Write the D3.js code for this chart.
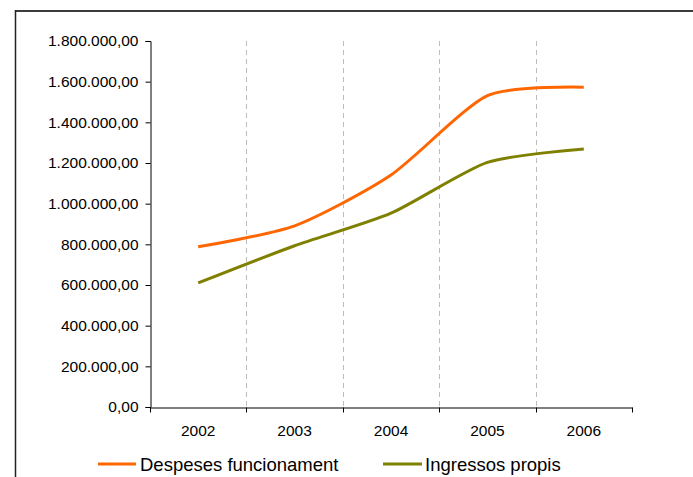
<!DOCTYPE html>
<html>
<head>
<meta charset="utf-8">
<script src="https://cdn.jsdelivr.net/npm/d3@7"></script>
<style>
  html, body { margin: 0; padding: 0; background: #fff; }
  svg { display: block; font-family: "Liberation Sans", Arial, sans-serif; }
</style>
</head>
<body>
<svg id="chart" width="693" height="477"></svg>
<script>
const years = ["2002", "2003", "2004", "2005", "2006"];
const despeses = [788000, 891000, 1141000, 1531000, 1573000];
const ingressos = [610000, 793000, 953000, 1203000, 1269000];
const yTicks = [0, 200000, 400000, 600000, 800000, 1000000, 1200000, 1400000, 1600000, 1800000];
const seriesNames = ["Despeses funcionament", "Ingressos propis"];
const seriesColors = ["#FF6600", "#808000"];

(function () {
const svg = d3.select("#chart");
const W = 693, H = 477;
const pLeft = 150, pRight = 632, pTop = 41, pBottom = 407;

// frame
svg.append("line").attr("x1", 15).attr("x2", W).attr("y1", 11).attr("y2", 11)
  .attr("stroke", "#3c3c3c").attr("stroke-width", 2);
svg.append("line").attr("x1", 15.5).attr("x2", 15.5).attr("y1", 10).attr("y2", H)
  .attr("stroke", "#222").attr("stroke-width", 1.5);

const x = d3.scaleBand().domain(years).range([pLeft, pRight]).padding(0);
const y = d3.scaleLinear().domain([0, 1800000]).range([pBottom, pTop]);

const loc = d3.formatLocale({decimal: ",", thousands: ".", grouping: [3], currency: ["", "€"]});
const fmt = loc.format(",.2f");

// vertical dashed gridlines at category boundaries
const bounds = years.slice(1).map(d => x(d));
svg.append("g").selectAll("line").data(bounds).join("line")
  .attr("x1", d => Math.round(d) + 0.5).attr("x2", d => Math.round(d) + 0.5)
  .attr("y1", pTop).attr("y2", pBottom)
  .attr("stroke", "#bdbdbd").attr("stroke-width", 1)
  .attr("stroke-dasharray", "5,4");

// y axis
const yAxis = d3.axisLeft(y).tickValues(yTicks).tickFormat(fmt).tickSize(5).tickPadding(7);
const gy = svg.append("g").attr("transform", `translate(${pLeft + 0.5},0)`).call(yAxis);
gy.select(".domain").attr("stroke", "#000");
gy.selectAll(".tick line").attr("stroke", "#000");
gy.selectAll(".tick text").attr("font-size", 15.5).attr("fill", "#000")
  .attr("font-family", "Liberation Sans, Arial, sans-serif");

// x axis
const xAxis = d3.axisBottom(x).tickSize(0).tickPadding(0);
const gx = svg.append("g").attr("transform", `translate(0,${pBottom + 0.5})`).call(xAxis);
gx.select(".domain").attr("stroke", "#000");
gx.selectAll(".tick text").attr("font-size", 15.5).attr("fill", "#000")
  .attr("font-family", "Liberation Sans, Arial, sans-serif")
  .attr("dy", 0).attr("y", 28.5);
// boundary ticks
const allBounds = years.map(d => x(d)).concat([pRight]);
gx.append("g").selectAll("line").data(allBounds).join("line")
  .attr("x1", d => Math.round(d) + 0.5).attr("x2", d => Math.round(d) + 0.5)
  .attr("y1", 0).attr("y2", 5).attr("stroke", "#000");

// lines
const line = d3.line()
  .x((d, i) => x(years[i]) + x.bandwidth() / 2)
  .y(d => y(d))
  .curve(d3.curveCardinal.tension(0.3));

[despeses, ingressos].forEach((s, i) => {
  svg.append("path").datum(s).attr("d", line)
    .attr("fill", "none").attr("stroke", seriesColors[i])
    .attr("stroke-width", 3).attr("stroke-linejoin", "round");
});

// legend
const legendItems = [
  {x1: 98, x2: 136, tx: 140},
  {x1: 383, x2: 422, tx: 425}
];
legendItems.forEach((p, i) => {
  svg.append("line").attr("x1", p.x1).attr("x2", p.x2).attr("y1", 464).attr("y2", 464)
    .attr("stroke", seriesColors[i]).attr("stroke-width", 3);
  svg.append("text").attr("x", p.tx).attr("y", 470.5)
    .attr("font-size", 18.5).attr("fill", "#000")
    .text(seriesNames[i]);
});
})();
</script>
</body>
</html>
